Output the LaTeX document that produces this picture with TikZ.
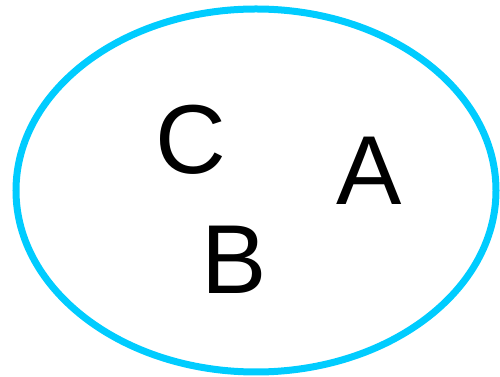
\documentclass[tikz,border=0pt]{standalone}
\usepackage{fontspec}
\setmainfont{Liberation Sans}
\definecolor{ringcyan}{HTML}{00CCFF}
\begin{document}
\begin{tikzpicture}[x=1pt,y=1pt,
  letter/.style={inner sep=0pt, anchor=base, font=\fontsize{98}{100}\selectfont}]
\useasboundingbox (0,0) rectangle (500,377);
\draw[ringcyan, line width=7pt] (256,186.5) ellipse [x radius=240, y radius=181.5];
\node[letter] (c) at (191,203) {C};
\node[letter] (a) at (369.5,172) {A};
\node[letter] (b) at (234,83) {B};
\end{tikzpicture}
\end{document}
